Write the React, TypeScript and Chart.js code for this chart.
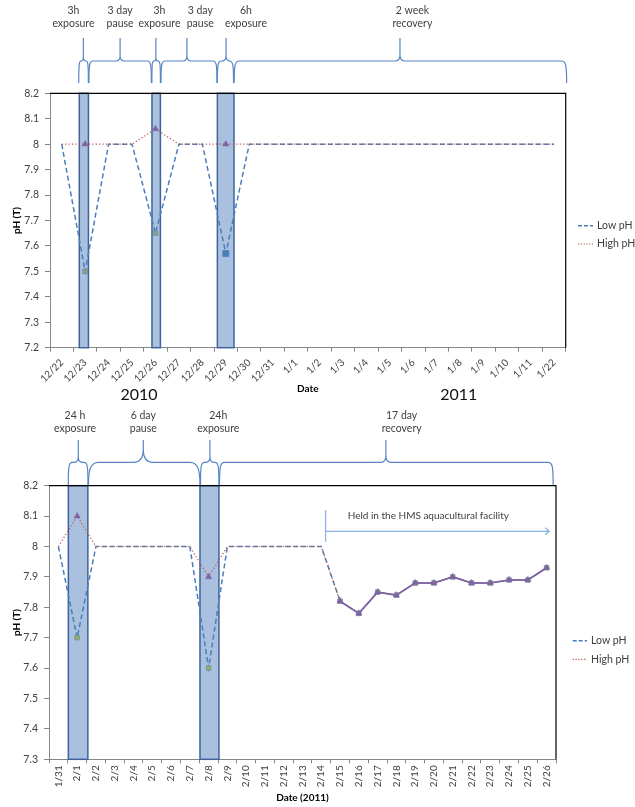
import React, { useEffect, useRef } from 'react';
import { Chart, registerables } from 'chart.js';

Chart.register(...registerables);

const FONT = "Lato, 'Open Sans', 'DejaVu Sans', sans-serif";
const TEXT = '#404040';
const AXIS = '#868686';
const BLUE = '#4a7ebb';
const RED = '#c0504d';
const PURPLE = '#8064a2';
const BRACE = '#5585c5';
const BAR_FILL = '#a9c0df';
const BAR_EDGE = '#3f6499';

// ---------- Top chart (Dec 2010 – Jan 2011) ----------
const topDates = ['12/22', '12/23', '12/24', '12/25', '12/26', '12/27', '12/28', '12/29', '12/30', '12/31',
  '1/1', '1/2', '1/3', '1/4', '1/5', '1/6', '1/7', '1/8', '1/9', '1/10', '1/11', '1/22'];
const topLowPH = [8, 7.5, 8, 8, 7.65, 8, 8, 7.57, 8, 8, 8, 8, 8, 8, 8, 8, 8, 8, 8, 8, 8, 8];
const topHighPH = [8, 8, 8, 8, 8.06, 8, 8, 8, 8, 8, 8, 8, 8, 8, 8, 8, 8, 8, 8, 8, 8, 8];
const topMarked = [1, 4, 7];
const topYMin = 7.2;
const topYMax = 8.2;
const topExposureStart = [0.75, 3.85, 6.64];
const topExposureEnd = [1.14, 4.21, 7.35];
const topBraceText = [['3h', 'exposure'], ['3 day', 'pause'], ['3h', 'exposure'], ['3 day', 'pause'], ['6h', 'exposure'], ['2 week', 'recovery']];
const topBraceStart = [0.726, 1.16, 3.846, 4.235, 6.637, 7.355];
const topBraceEnd = [1.137, 3.825, 4.21, 6.624, 7.33, 21.54];
const topBraceTip = [0.923, 2.49, 4.017, 5.34, 7.01, 14.43];
const topBraceTextAt = [0.5, 2.49, 4.17, 5.91, 7.86, 14.96];
const topBraceCurve = [4, 4, 4, 4, 4, 5];
const topYears = ['2010', '2011'];
const topYearAt = [3.3, 16.94];

// ---------- Bottom chart (Feb 2011) ----------
const botDates = ['1/31', '2/1', '2/2', '2/3', '2/4', '2/5', '2/6', '2/7', '2/8', '2/9', '2/10', '2/11', '2/12', '2/13',
  '2/14', '2/15', '2/16', '2/17', '2/18', '2/19', '2/20', '2/21', '2/22', '2/23', '2/24', '2/25', '2/26'];
const botLowPH = [8, 7.7, 8, 8, 8, 8, 8, 8, 7.6, 8, 8, 8, 8, 8, 8,
  7.82, 7.78, 7.85, 7.84, 7.88, 7.88, 7.9, 7.88, 7.88, 7.89, 7.89, 7.93];
const botHighPH = [8, 8.1, 8, 8, 8, 8, 8, 8, 7.9, 8, 8, 8, 8, 8, 8,
  7.82, 7.78, 7.85, 7.84, 7.88, 7.88, 7.9, 7.88, 7.88, 7.89, 7.89, 7.93];
const botMarked = [1, 8, 15, 16, 17, 18, 19, 20, 21, 22, 23, 24, 25, 26];
const botSolidFrom = 15;
const botYMin = 7.3;
const botYMax = 8.2;
const botExposureStart = [0.53, 7.54];
const botExposureEnd = [1.57, 8.55];
const botBraceText = [['24 h', 'exposure'], ['6 day', 'pause'], ['24h', 'exposure'], ['17 day', 'recovery']];
const botBraceStart = [0.528, 1.6, 7.567, 8.58];
const botBraceEnd = [1.577, 7.54, 8.55, 26.35];
const botBraceTip = [1.06, 4.52, 8.07, 17.44];
const botBraceTextAt = [0.884, 4.52, 8.515, 18.28];
const botBraceCurve = [4, 10, 4, 5];
const heldText = 'Held in the HMS aquacultural facility';
const heldStart = 14.23;
const heldEnd = 26.14;
const heldTextAt = 19.7;
const heldLineTop = 8.12;
const heldLineBottom = 8.016;
const heldArrowY = 8.05;
const heldTextY = 8.1;

const legendNames = ['Low pH', 'High pH'];

function fmt(v: number) {
  return String(Number(Number(v).toFixed(1)));
}

function drawBrace(ctx: CanvasRenderingContext2D, x0: number, x1: number, xt: number,
  yEnd: number, yLine: number, yTip: number, curve: number) {
  const w = x1 - x0;
  const r = Math.min(curve, w / 4);
  const tr = Math.min(curve, w / 4);
  ctx.beginPath();
  ctx.moveTo(x0, yEnd);
  ctx.bezierCurveTo(x0, yLine + r * 0.9, x0 + r * 0.15, yLine, x0 + r, yLine);
  ctx.lineTo(xt - tr, yLine);
  ctx.bezierCurveTo(xt - tr * 0.25, yLine, xt, yLine - tr * 0.5, xt, yLine - tr * 1.3);
  ctx.lineTo(xt, yTip);
  ctx.moveTo(xt, yLine - tr * 1.3);
  ctx.bezierCurveTo(xt, yLine - tr * 0.5, xt + tr * 0.25, yLine, xt + tr, yLine);
  ctx.lineTo(x1 - r, yLine);
  ctx.bezierCurveTo(x1 - r * 0.15, yLine, x1, yLine + r * 0.9, x1, yEnd);
  ctx.stroke();
}

type Spec = {
  id: string;
  labels: string[];
  low: number[];
  high: number[];
  marked: number[];
  lowFill: (i: number) => string;
  lowRadius: (i: number) => number;
  yMin: number;
  yMax: number;
  rotation: number;
  tickPad: number;
  height: number;
  padding: { top: number; right: number; bottom: number; left: number };
  yWidth: number;
  xHeight: number;
  xTitle: string;
  xTitlePad: number;
  solidFrom: number;
  expStart: number[];
  expEnd: number[];
  brace: { text: string[][]; start: number[]; end: number[]; tip: number[]; textAt: number[]; curve: number[];
    yEnd: number; yLine: number; yTip: number; t1: number; t2: number };
  legend: { x0: number; x1: number; tx: number; y: number[] };
  extra?: (chart: any) => void;
};

function buildConfig(s: Spec): any {
  const lowRadius = s.labels.map((_, i) => (s.marked.includes(i) ? s.lowRadius(i) : 0));
  const highRadius = s.labels.map((_, i) => (s.marked.includes(i) ? 3.6 : 0));
  const lowFill = s.labels.map((_, i) => s.lowFill(i));
  const solid = (c: any) => c.p0DataIndex >= s.solidFrom;

  const plugin = {
    id: 'overlay_' + s.id,
    beforeDatasetsDraw(chart: any) {
      const { ctx, chartArea: a, scales } = chart;
      const x = scales.x;
      ctx.save();
      for (let i = 0; i < s.expStart.length; i++) {
        const x0 = x.getPixelForValue(s.expStart[i]);
        const x1 = x.getPixelForValue(s.expEnd[i]);
        ctx.fillStyle = BAR_FILL;
        ctx.fillRect(x0, a.top, x1 - x0, a.bottom - a.top);
        ctx.strokeStyle = BAR_EDGE;
        ctx.lineWidth = 1.5;
        ctx.strokeRect(x0, a.top, x1 - x0, a.bottom - a.top);
      }
      ctx.restore();
    },
    afterDraw(chart: any) {
      const { ctx, chartArea: a, scales } = chart;
      const x = scales.x;
      ctx.save();
      ctx.strokeStyle = '#000';
      ctx.lineWidth = 1.2;
      ctx.beginPath();
      ctx.moveTo(a.left, a.top);
      ctx.lineTo(a.right, a.top);
      ctx.lineTo(a.right, a.bottom);
      ctx.stroke();
      const b = s.brace;
      ctx.strokeStyle = BRACE;
      ctx.lineWidth = 1.2;
      ctx.font = `10.5px ${FONT}`;
      ctx.fillStyle = TEXT;
      ctx.textAlign = 'center';
      ctx.textBaseline = 'middle';
      for (let i = 0; i < b.start.length; i++) {
        drawBrace(ctx, x.getPixelForValue(b.start[i]), x.getPixelForValue(b.end[i]), x.getPixelForValue(b.tip[i]),
          b.yEnd, b.yLine, b.yTip, b.curve[i]);
        const tx = x.getPixelForValue(b.textAt[i]);
        ctx.fillText(b.text[i][0], tx, b.t1);
        ctx.fillText(b.text[i][1], tx, b.t2);
      }
      const L = s.legend;
      ctx.textAlign = 'left';
      ctx.font = `10.5px ${FONT}`;
      for (let i = 0; i < 2; i++) {
        ctx.beginPath();
        ctx.strokeStyle = i === 0 ? BLUE : RED;
        ctx.lineWidth = i === 0 ? 1.5 : 1.2;
        ctx.setLineDash(i === 0 ? [4, 2] : [1.2, 1.6]);
        ctx.moveTo(L.x0, L.y[i]);
        ctx.lineTo(L.x1, L.y[i]);
        ctx.stroke();
        ctx.setLineDash([]);
        ctx.fillStyle = TEXT;
        ctx.fillText(legendNames[i], L.tx, L.y[i]);
      }
      if (s.extra) s.extra(chart);
      ctx.restore();
    },
  };

  return {
    type: 'line',
    data: {
      labels: s.labels,
      datasets: [
        {
          label: legendNames[0],
          data: s.low,
          order: 1,
          borderColor: BLUE,
          borderWidth: 1.5,
          borderDash: [5, 3],
          tension: 0,
          fill: false,
          pointStyle: 'rect',
          pointRadius: lowRadius,
          pointBackgroundColor: lowFill,
          pointBorderColor: lowFill.map((c) => (c === BLUE ? BLUE : '#6f8fa8')),
          pointBorderWidth: 0.8,
          segment: {
            borderColor: (c: any) => (solid(c) ? PURPLE : undefined),
            borderDash: (c: any) => (solid(c) ? [] : undefined),
          },
        },
        {
          label: legendNames[1],
          data: s.high,
          order: 0,
          borderColor: RED,
          borderWidth: 1.2,
          borderDash: [1.2, 2.2],
          tension: 0,
          fill: false,
          pointStyle: 'triangle',
          pointRadius: highRadius,
          pointBackgroundColor: PURPLE,
          pointBorderColor: PURPLE,
          pointBorderWidth: 0.5,
          segment: {
            borderColor: (c: any) => (solid(c) ? PURPLE : undefined),
            borderDash: (c: any) => (solid(c) ? [] : undefined),
            borderWidth: (c: any) => (solid(c) ? 1.6 : undefined),
          },
        },
      ],
    },
    options: {
      animation: false,
      responsive: false,
      devicePixelRatio: 1,
      events: [],
      layout: { padding: s.padding },
      plugins: { legend: { display: false }, tooltip: { enabled: false } },
      scales: {
        x: {
          type: 'category',
          offset: true,
          grid: { display: true, offset: true, drawOnChartArea: false, drawTicks: true, tickLength: 4, color: AXIS },
          border: { display: true, color: AXIS, width: 1 },
          ticks: {
            autoSkip: false,
            minRotation: s.rotation,
            maxRotation: s.rotation,
            padding: s.tickPad,
            color: TEXT,
            font: { family: FONT, size: 10 },
          },
          title: {
            display: true,
            text: s.xTitle,
            color: '#000',
            font: { family: FONT, size: 10, weight: 'bold' },
            padding: { top: 0, bottom: s.xTitlePad },
          },
          afterFit(scale: any) {
            scale.height = s.xHeight;
            scale.paddingLeft = 0;
            scale.paddingRight = 0;
          },
        },
        y: {
          min: s.yMin,
          max: s.yMax,
          grid: { display: true, drawOnChartArea: false, drawTicks: true, tickLength: 5, color: AXIS },
          border: { display: true, color: AXIS, width: 1 },
          ticks: {
            stepSize: 0.1,
            padding: 6,
            color: TEXT,
            font: { family: FONT, size: 10.5 },
            callback: (v: any) => fmt(v),
          },
          title: {
            display: true,
            text: 'pH (T)',
            color: '#000',
            font: { family: FONT, size: 10, weight: 'bold' },
            padding: { top: 11, bottom: 0 },
          },
          afterFit(scale: any) {
            scale.width = s.yWidth;
            scale.paddingTop = 0;
            scale.paddingBottom = 0;
          },
        },
      },
    },
    plugins: [plugin],
  };
}

const topSpec: Spec = {
  id: 'top',
  labels: topDates,
  low: topLowPH,
  high: topHighPH,
  marked: topMarked,
  lowFill: (i) => (i === 7 ? BLUE : '#88a07f'),
  lowRadius: (i) => (i === 7 ? 4.2 : 3.3),
  yMin: topYMin,
  yMax: topYMax,
  rotation: 45,
  tickPad: 5,
  height: 410,
  padding: { top: 93.3, right: 69.3, bottom: 10, left: 0 },
  yWidth: 50,
  xHeight: 52.3,
  xTitle: 'Date',
  xTitlePad: 5,
  solidFrom: Infinity,
  expStart: topExposureStart,
  expEnd: topExposureEnd,
  brace: { text: topBraceText, start: topBraceStart, end: topBraceEnd, tip: topBraceTip, textAt: topBraceTextAt,
    curve: topBraceCurve, yEnd: 83, yLine: 61, yTip: 38, t1: 10.5, t2: 23.5 },
  legend: { x0: 578, x1: 593, tx: 597, y: [225.7, 244] },
  extra: (chart: any) => {
    const { ctx, scales } = chart;
    ctx.font = `16px ${FONT}`;
    ctx.fillStyle = '#111';
    ctx.textAlign = 'center';
    ctx.textBaseline = 'middle';
    for (let i = 0; i < topYears.length; i++) {
      ctx.fillText(topYears[i], scales.x.getPixelForValue(topYearAt[i]), 395);
    }
  },
};

const botSpec: Spec = {
  id: 'bot',
  labels: botDates,
  low: botLowPH,
  high: botHighPH,
  marked: botMarked,
  lowFill: () => '#8fb15e',
  lowRadius: () => 3.2,
  yMin: botYMin,
  yMax: botYMax,
  rotation: 90,
  tickPad: 2,
  height: 407,
  padding: { top: 85.7, right: 79, bottom: 0, left: 0 },
  yWidth: 49,
  xHeight: 47.7,
  xTitle: 'Date (2011)',
  xTitlePad: 3,
  solidFrom: botSolidFrom,
  expStart: botExposureStart,
  expEnd: botExposureEnd,
  brace: { text: botBraceText, start: botBraceStart, end: botBraceEnd, tip: botBraceTip, textAt: botBraceTextAt,
    curve: botBraceCurve, yEnd: 85, yLine: 62.3, yTip: 40, t1: 16, t2: 29 },
  legend: { x0: 572.7, x1: 587, tx: 591, y: [240.7, 259.3] },
  extra: (chart: any) => {
    const { ctx, scales } = chart;
    const x = scales.x;
    const y = scales.y;
    const xs = x.getPixelForValue(heldStart);
    const xe = x.getPixelForValue(heldEnd);
    const ya = y.getPixelForValue(heldArrowY);
    ctx.strokeStyle = '#8db3e2';
    ctx.lineWidth = 1.3;
    ctx.setLineDash([]);
    ctx.beginPath();
    ctx.moveTo(xs, y.getPixelForValue(heldLineTop));
    ctx.lineTo(xs, y.getPixelForValue(heldLineBottom));
    ctx.moveTo(xs, ya);
    ctx.lineTo(xe, ya);
    ctx.moveTo(xe - 4, ya - 3.5);
    ctx.lineTo(xe, ya);
    ctx.lineTo(xe - 4, ya + 3.5);
    ctx.stroke();
    ctx.font = `10px ${FONT}`;
    ctx.fillStyle = TEXT;
    ctx.textAlign = 'center';
    ctx.textBaseline = 'middle';
    ctx.fillText(heldText, x.getPixelForValue(heldTextAt), y.getPixelForValue(heldTextY));
  },
};

function PhChart({ spec, top }: { spec: Spec; top: number }) {
  const ref = useRef<HTMLCanvasElement>(null);
  useEffect(() => {
    const chart = new Chart(ref.current as HTMLCanvasElement, buildConfig(spec));
    return () => chart.destroy();
  }, [spec]);
  return (
    <canvas
      ref={ref}
      width={635}
      height={spec.height}
      style={{ position: 'absolute', left: 0, top, width: 635, height: spec.height }}
    />
  );
}

export default function App() {
  return (
    <div style={{ position: 'absolute', left: 0, top: 0, width: 635, height: 807, background: '#fff' }}>
      <PhChart spec={topSpec} top={0} />
      <PhChart spec={botSpec} top={400} />
    </div>
  );
}
